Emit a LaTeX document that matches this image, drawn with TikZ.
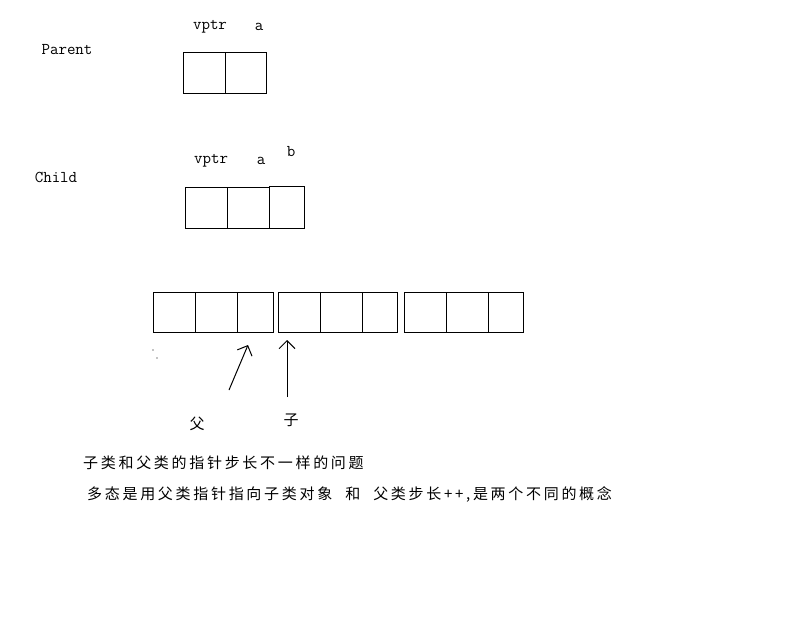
\documentclass[tikz,border=0pt]{standalone}
\usepackage{fontspec}
\newfontfamily\cjk[LetterSpace=18]{Noto Sans CJK SC}
\usetikzlibrary{arrows.meta}
\tikzset{
  cell/.style={draw, line width=1pt, inner sep=0pt, outer sep=0pt, anchor=north west, minimum height=40pt},
  lab/.style={font=\ttfamily\fontsize{16.5}{18}\selectfont, inner sep=0pt},
  cjklab/.style={font=\cjk\fontsize{15}{18}\selectfont, inner sep=0pt},
  ptr/.style={line width=1pt, -{Straight Barb[length=8pt,width=16pt,line width=1pt]}}
}
% \objrow{name}{x}{y}{w1}{w2}{w3}
\newcommand{\objrow}[6]{%
  \node[cell, minimum width=#4pt] (#1v) at (#2,#3) {};
  \node[cell, minimum width=#5pt] (#1a) at (#1v.north east) {};
  \node[cell, minimum width=#6pt] (#1b) at (#1a.north east) {};
}
\begin{document}
\begin{tikzpicture}[x=1pt,y=-1pt]
\useasboundingbox[fill=white] (0,0) rectangle (800,618);
% Parent
\node[lab] (parent) at (67,50) {Parent};
\node[cell, minimum width=42pt] (pv) at (183,53) {};
\node[cell, minimum width=41pt] (pa) at (pv.north east) {};
\node[lab] (pvl) at (210,27) {vptr};
\node[lab] (pal) at (259,27) {a};
% Child
\node[lab] (child) at (56,177) {Child};
\node[cell, minimum width=42pt, minimum height=41pt] (cv) at (185,187) {};
\node[cell, minimum width=42pt, minimum height=41pt] (ca) at (cv.north east) {};
\node[cell, minimum width=35pt, minimum height=42pt] (cb) at (269,186) {};
\node[lab] (cvl) at (211,161) {vptr};
\node[lab] (cal) at (261,161) {a};
\node[lab] (cbl) at (291,152) {b};
% array of children
\objrow{r1}{153}{292}{42}{42}{36}
\objrow{r2}{278}{292}{42}{42}{35}
\objrow{r3}{404}{292}{42}{42}{35}
% dots
\fill (153,350) circle (0.7);
\fill (157,358) circle (0.7);
% pointers
\coordinate (t1) at (229,390);
\coordinate (h1) at (248,345);
\coordinate (t2) at (287,397);
\coordinate (h2) at (287,340);
\draw[ptr] (t1) -- (h1);
\draw[ptr] (t2) -- (h2);
\node[cjklab] (fu) at (197,424) {父};
\node[cjklab] (zi) at (291,420) {子};
% texts
\node[cjklab, anchor=west] (line1) at (83,463) {子类和父类的指针步长不一样的问题};
\node[cjklab, anchor=west] (line2) at (87,494) {多态是用父类指针指向子类对象\hspace{13pt}和\hspace{13pt}父类步长++,是两个不同的概念};
\end{tikzpicture}
\end{document}
